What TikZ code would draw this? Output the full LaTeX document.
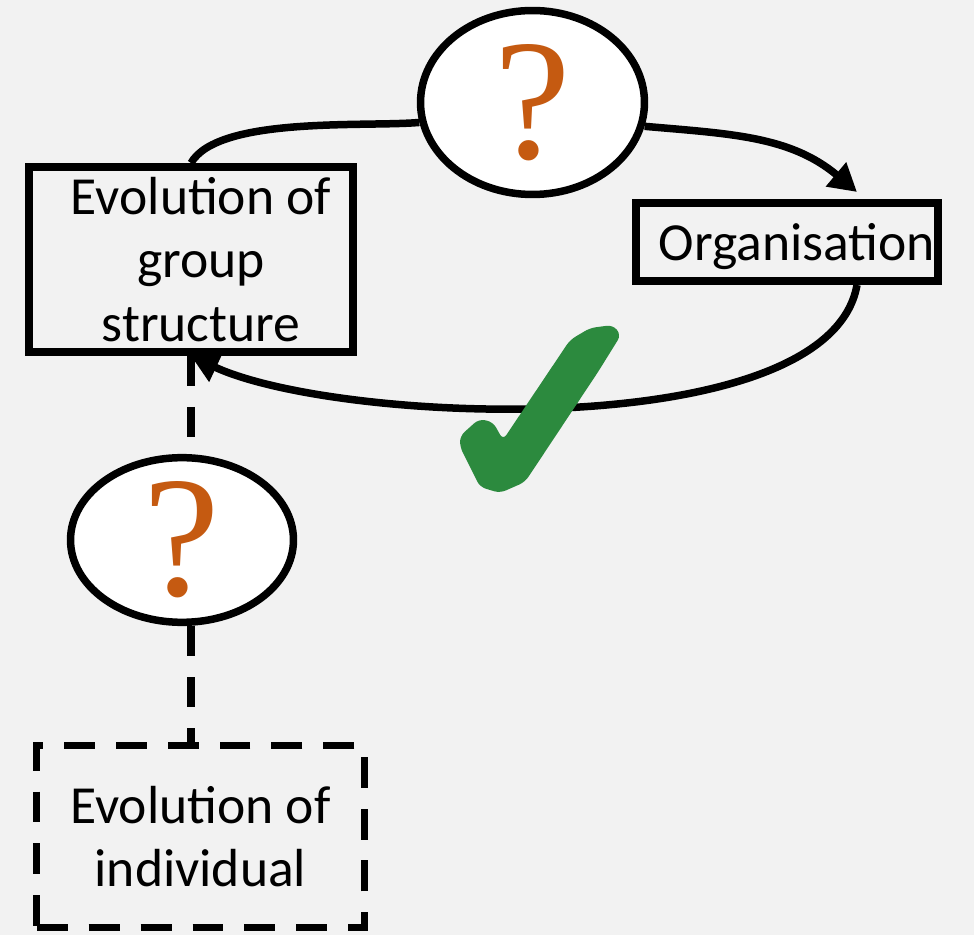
\documentclass[tikz,border=0pt]{standalone}
\usepackage{fontspec}
\setmainfont{Carlito}
\newfontfamily\qfont{Liberation Serif}
\usetikzlibrary{arrows.meta,shapes.geometric}
\definecolor{bgGray}{HTML}{F2F2F2}
\definecolor{qOrange}{HTML}{C55A11}
\definecolor{tickGreen}{HTML}{2C8A3E}
\newcommand{\nudge}{\hspace*{0.4cm}}
\tikzset{
  box/.style={draw, line width=0.16cm, inner sep=0pt, align=center,
    font=\fontsize{30.5}{36}\selectfont},
  dashbox/.style={box, line width=0.15cm, dash pattern=on 0.62cm off 0.42cm},
  query/.style={ellipse, draw, fill=white, line width=0.15cm, inner sep=0pt,
    text=qOrange, font=\qfont\fontsize{98}{100}\selectfont},
  cyclearrow/.style={line width=0.15cm},
  dashlink/.style={line width=0.15cm, dash pattern=on 0.6cm off 0.42cm}
}
\begin{document}
\begin{tikzpicture}[x=0.02cm,y=-0.02cm,>={Triangle[length=0.55cm,width=0.6cm]}]
    % background
    \fill[bgGray] (0,0) rectangle (974,935);

    % the three boxes
    \node[box, minimum width=6.48cm, minimum height=3.7cm] (group) at (191,259.5) {\nudge Evolution of\\\nudge group\\\nudge structure};
    \node[box, minimum width=6.04cm, minimum height=1.56cm, text height=0.76cm, text depth=0pt] (org) at (787,242) {\nudge Organisation};
    \node[dashbox, minimum width=6.56cm, minimum height=3.64cm] (indiv) at (200.5,836.5) {Evolution of\\individual};

    % the two question marks
    \node[query, minimum width=4.48cm, minimum height=3.68cm] (topq) at (532.5,102.5) {?};
    \node[query, minimum width=4.46cm, minimum height=3.26cm] (lowq) at (182,540) {?};

    % end of the upper arrow
    \coordinate (orgin) at (857,192);

    % the loop
    \draw[cyclearrow] (group.north) to[out=60,in=185,looseness=0.6] (topq.190);
    \draw[cyclearrow,->] (topq.-12) to[out=-5,in=140] (orgin);
    \draw[cyclearrow,->] (org.south -| orgin) to[out=-100,in=-25,looseness=0.62] (group.south);

    % dashed link
    \draw[dashlink] (group.south) -- (group.south |- lowq.north);
    \draw[dashlink] (lowq.south -| group.south) -- (indiv.north -| group.south);

    % tick
    \fill[tickGreen, rounded corners=0.12cm] (460,436) -- (479,419) -- (493,422) -- (503,440) -- (570,340)
        -- (590,328) -- (613,325) -- (621,335) -- (598,372) -- (525,482) -- (500,493) -- (480,487)
        -- (460,447) -- cycle;
\end{tikzpicture}
\end{document}
